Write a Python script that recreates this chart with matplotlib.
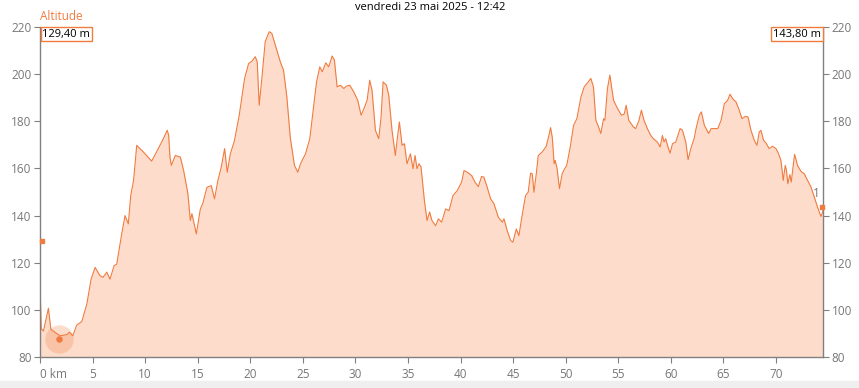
import matplotlib.pyplot as plt
from matplotlib.patches import Rectangle

plt.rcParams['font.family'] = ['Open Sans', 'DejaVu Sans']

# profil altimetrique (km, m)
km = [0.0, 0.12, 0.33, 0.8, 1.03, 1.44, 1.91, 2.55, 2.8, 3.12, 3.5, 3.97, 4.45, 4.86,
      5.24, 5.71, 6.0, 6.35, 6.66, 7.04, 7.3, 7.77, 8.09, 8.4, 8.63, 8.9, 9.2, 9.83,
      10.62, 11.25, 11.73, 12.1, 12.24, 12.36, 12.49, 12.87, 13.35, 13.66, 14.07, 14.3,
      14.45, 14.87, 15.25, 15.47, 15.88, 16.29, 16.6, 16.92, 17.24, 17.56, 17.81, 18.1,
      18.5, 18.95, 19.46, 19.84, 20.2, 20.47, 20.66, 20.85, 21.1, 21.42, 21.8, 22.05,
      22.43, 22.85, 23.16, 23.48, 23.8, 24.2, 24.52, 24.78, 25.25, 25.66, 25.98, 26.3,
      26.61, 26.85, 27.18, 27.46, 27.79, 28.0, 28.26, 28.57, 28.9, 29.14, 29.46, 29.84,
      30.22, 30.54, 30.85, 31.11, 31.36, 31.58, 31.9, 32.22, 32.44, 32.63, 32.95, 33.17,
      33.48, 33.8, 33.96, 34.18, 34.44, 34.66, 34.91, 35.23, 35.48, 35.67, 35.86, 36.05,
      36.24, 36.56, 36.81, 37.06, 37.28, 37.63, 37.89, 38.2, 38.58, 38.9, 39.28, 39.69,
      40.1, 40.33, 40.64, 41.05, 41.37, 41.69, 42.0, 42.22, 42.54, 42.86, 43.18, 43.59,
      43.97, 44.13, 44.44, 44.76, 44.98, 45.3, 45.55, 45.8, 46.18, 46.43, 46.66, 46.82,
      46.98, 47.2, 47.39, 47.77, 48.15, 48.4, 48.56, 48.72, 48.9, 49.0, 49.18, 49.41,
      49.66, 49.85, 50.1, 50.43, 50.75, 51.06, 51.45, 51.76, 52.14, 52.39, 52.64, 52.87,
      53.1, 53.34, 53.6, 53.73, 53.97, 54.2, 54.36, 54.55, 54.93, 55.3, 55.56, 55.75,
      56.0, 56.44, 56.66, 56.97, 57.2, 57.45, 57.77, 58.09, 58.34, 58.72, 58.98, 59.2,
      59.35, 59.51, 59.73, 59.93, 60.16, 60.47, 60.88, 61.1, 61.42, 61.64, 61.9, 62.21,
      62.4, 62.71, 62.9, 63.19, 63.6, 63.83, 64.15, 64.46, 64.78, 65.09, 65.4, 65.63,
      65.88, 66.2, 66.45, 66.77, 67.09, 67.34, 67.62, 67.94, 68.19, 68.41, 68.57, 68.82,
      69.05, 69.35, 69.68, 70.0, 70.25, 70.47, 70.69, 70.88, 71.0, 71.13, 71.32, 71.45,
      71.77, 72.05, 72.37, 72.69, 73.01, 73.33, 73.64, 73.96, 74.28, 74.44, 74.5]
alt = [111, 92, 91, 100.7, 91.8, 90.4, 89, 89.5, 90.5, 89, 93.6, 95, 102.4, 113,
       118, 114.5, 113.8, 116, 113, 118.7, 119.4, 132.2, 140, 136.5, 148.5, 154.9, 169.8, 167,
       163.1, 168.4, 172.6, 176.2, 174, 164.9, 161.3, 165.5, 164.8, 159.1, 149.2, 137.9,
       140.8, 132.2, 142.8, 145, 152, 152.7, 147.1, 154.9, 160.6, 168.4, 158.4, 166.1,
       171.9, 182.6, 198.2, 204.5, 205.7, 207.4, 205.3, 186.8, 198.2, 213.8, 218, 217.3,
       211.6, 205.3, 201.7, 190.3, 173.3, 161.3, 158.4, 162, 166.2, 172.6, 184.7, 196.7,
       203.1, 201, 204.8, 203.1, 207.7, 206, 194.6, 195.3, 193.9, 194.9, 195.3, 192.5,
       188.9, 182.6, 185.8, 188.9, 197.4, 193.2, 176.2, 172.6, 181.9, 196.7, 195.3, 191,
       176.2, 165.5, 171.9, 179.7, 169.8, 170.5, 162, 166.2, 159.9, 165.5, 159.9, 162,
       160.6, 146.4, 137.9, 141.5, 137.9, 135.7, 138.6, 137.2, 142.8, 142.1, 148.5, 150.6,
       154.2, 159.1, 158.4, 157, 154.2, 152.3, 156.6, 156.3, 151.9, 147.1, 145, 139.3,
       137.2, 138.6, 133.6, 129.4, 128.7, 134.3, 131.5, 138.6, 148.5, 149.9, 158, 157.7,
       149.9, 157.7, 165.5, 167, 169.4, 174, 177.3, 173.3, 162, 163.4, 159.9, 151.4,
       157.7, 159.5, 161.3, 169.1, 178.3, 181.1, 190.3, 194.6, 196.7, 198.2, 194.6, 180.4,
       177.9, 174.8, 181.1, 180.4, 193.9, 199.6, 194.6, 188.9, 185.4, 182.6, 183, 186.8,
       180.4, 177.6, 176.9, 180.4, 184.7, 180.4, 176.9, 174, 172.6, 171.2, 169.1, 174,
       171.2, 172.6, 169.1, 166.5, 170.5, 171.2, 176.9, 176.2, 171.2, 163.7, 168.4, 172.6,
       176.9, 182.6, 184, 178.3, 174.8, 176.9, 176.9, 176.9, 180.4, 187.5, 188.9, 191.5,
       189.6, 188.2, 185.4, 181.1, 182.1, 181.8, 176.2, 171.9, 169.8, 175.5, 176.2, 171.9,
       170.8, 168.4, 169.4, 168.4, 166.2, 163.4, 154.9, 161.3, 159.1, 153.5, 157.4, 154.2,
       166, 161.3, 158.8, 157.7, 154.9, 152.1, 147.8, 143.5, 139.6, 141.5, 143.8]

x_ticks = list(range(0, 75, 5))
x_labels = ['0 km'] + [str(v) for v in x_ticks[1:]]
y_ticks = list(range(80, 221, 20))

cursor_km, cursor_alt = 1.85, 87.8
left_value, right_value = 129.4, 143.8
title = "vendredi 23 mai 2025 - 12:42"

line_col = '#F07B3F'
fill_col = '#FDDCCB'
grey = '#808080'

fig = plt.figure(figsize=(8.59, 3.88), dpi=100)
fig.patches.append(Rectangle((0, 0), 1, 7 / 388, transform=fig.transFigure,
                             color='#EFEFEF', zorder=0))
ax = fig.add_axes([40 / 859, 31 / 388, 783.3 / 859, 330 / 388])

ax.fill_between(km, alt, 80, color=fill_col, lw=0)
ax.plot(km, alt, color=line_col, lw=0.8)

# curseur
ax.scatter([cursor_km], [cursor_alt], s=420, color=line_col, alpha=0.25, lw=0, zorder=3)
ax.scatter([cursor_km], [cursor_alt], s=22, color=line_col, lw=0, zorder=4)

ax.set_xlim(0, 74.5)
ax.set_ylim(80, 220)
ax.set_xticks(x_ticks)
ax.set_xticklabels(x_labels)
ax.get_xticklabels()[0].set_horizontalalignment('left')
ax.set_yticks(y_ticks)
ax.tick_params(axis='both', colors=grey, labelcolor='#777777', labelsize=8.5, length=4, width=0.8)
ax.tick_params(axis='y', left=True, right=True, labelleft=True, labelright=True, pad=2)
ax.tick_params(axis='x', pad=4)
for s in ['left', 'right', 'bottom']:
    ax.spines[s].set_color(grey)
    ax.spines[s].set_linewidth(1)
ax.spines['top'].set_visible(False)

# marqueurs des valeurs sur les axes
ax.plot([0.15], [left_value], marker='s', ms=3.5, color=line_col, clip_on=False, zorder=5)
ax.plot([74.4], [right_value], marker='s', ms=3.5, color=line_col, clip_on=False, zorder=5)
ax.text(73.85, 146.5, '1', color='#777777', fontsize=8.5, ha='center', va='bottom')

box = dict(boxstyle='square,pad=0.15', fc='white', ec=line_col, lw=1)
ax.text(0.003, 0.995, '129,40 m', transform=ax.transAxes, ha='left', va='top',
        fontsize=8, color='black', bbox=box)
ax.text(0.997, 0.995, '143,80 m', transform=ax.transAxes, ha='right', va='top',
        fontsize=8, color='black', bbox=box)

fig.text(40 / 859, 1 - 17 / 388, 'Altitude', color=line_col, fontsize=8.5, ha='left', va='center')
fig.text(430 / 859, 1 - 7 / 388, title, color='black', fontsize=8, ha='center', va='center')

fig.savefig('out.png', dpi=100)
